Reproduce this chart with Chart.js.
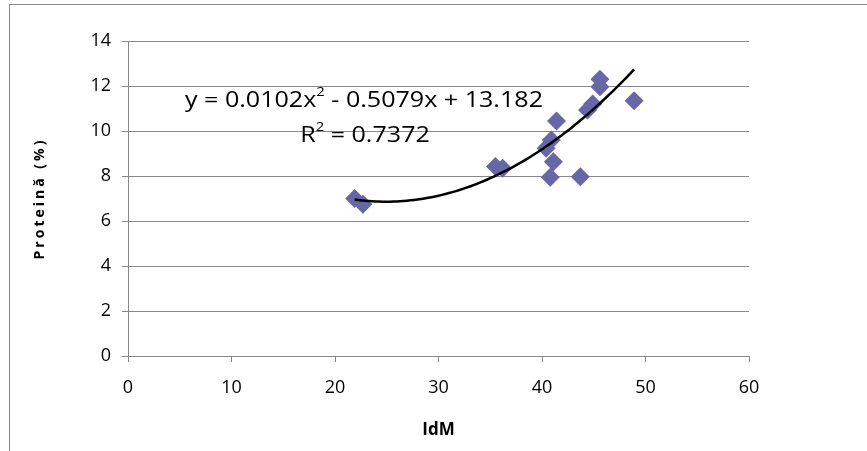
<!DOCTYPE html>
<html>
<head>
<meta charset="utf-8">
<script src="https://cdn.jsdelivr.net/npm/chart.js@4"></script>
<style>
  html, body { margin: 0; padding: 0; background: #fff; }
  #wrap { width: 867px; height: 451px; }
</style>
</head>
<body>
<div id="wrap"><canvas id="chart" width="867" height="451"></canvas></div>
<script>
// data
const idm = [21.9, 22.7, 35.5, 36.2, 40.4, 40.9, 41.4, 41.1, 40.8, 43.7, 44.4, 44.9, 45.6, 45.6, 48.9];
const protein = [7.0, 6.75, 8.42, 8.35, 9.23, 9.6, 10.44, 8.63, 7.94, 7.97, 10.93, 11.2, 12.3, 11.97, 11.35];
const xTicks = [0, 10, 20, 30, 40, 50, 60];
const yTicks = [0, 2, 4, 6, 8, 10, 12, 14];
// trendline y = a x^2 + b x + c
const trendCoef = [0.0102, -0.5079, 13.182];
const trendText = ["y = 0.0102x", "2", " - 0.5079x + 13.182"];
const r2Text = ["R", "2", " = 0.7372"];

const gridColor = "#888888";
const markerColor = "#6767a7";
const fontFamily = "'Open Sans'";

// outer frame + white background
const framePlugin = {
  id: "frame",
  beforeDraw(chart) {
    const ctx = chart.ctx;
    ctx.save();
    ctx.fillStyle = "#fff";
    ctx.fillRect(0, 0, chart.width, chart.height);
    ctx.strokeStyle = "#8a8a8a";
    ctx.lineWidth = 1;
    ctx.strokeRect(9.5, 4.5, chart.width + 20, chart.height + 20);
    ctx.restore();
  }
};

// poly trendline + its label, y axis title
const trendPlugin = {
  id: "trend",
  afterDatasetsDraw(chart) {
    const ctx = chart.ctx;
    const xs = chart.scales.x, ys = chart.scales.y;
    const x0 = Math.min(...idm), x1 = Math.max(...idm);
    const f = x => trendCoef[0] * x * x + trendCoef[1] * x + trendCoef[2];
    ctx.save();
    ctx.beginPath();
    const steps = 80;
    for (let i = 0; i <= steps; i++) {
      const x = x0 + (x1 - x0) * i / steps;
      const px = xs.getPixelForValue(x), py = ys.getPixelForValue(f(x));
      if (i === 0) ctx.moveTo(px, py); else ctx.lineTo(px, py);
    }
    ctx.strokeStyle = "#000";
    ctx.lineWidth = 2.5;
    ctx.lineJoin = "round";
    ctx.stroke();
    ctx.restore();

    drawSup(ctx, trendText, xs.getPixelForValue(22.8), ys.getPixelForValue(11.33));
    drawSup(ctx, r2Text, xs.getPixelForValue(22.9), ys.getPixelForValue(9.78));
  },
  afterDraw(chart) {
    const ctx = chart.ctx;
    const a = chart.chartArea;
    ctx.save();
    ctx.translate(40, (a.top + a.bottom) / 2);
    ctx.rotate(-Math.PI / 2);
    ctx.font = "bold 14px " + fontFamily;
    ctx.letterSpacing = "3px";
    ctx.fillStyle = "#000";
    ctx.textAlign = "center";
    ctx.textBaseline = "middle";
    ctx.fillText("Proteină (%)", 0, 0);
    ctx.restore();
  }
};

// label with a superscript part, stretched a bit wider like the original
function drawSup(ctx, parts, cx, cy) {
  const big = "22px " + fontFamily, small = "13px " + fontFamily;
  ctx.save();
  ctx.translate(cx, cy);
  ctx.scale(1.14, 1);
  ctx.fillStyle = "#000";
  ctx.textBaseline = "middle";
  ctx.font = big;
  const w0 = ctx.measureText(parts[0]).width;
  const w2 = ctx.measureText(parts[2]).width;
  ctx.font = small;
  const w1 = ctx.measureText(parts[1]).width;
  let x = -(w0 + w1 + w2) / 2;
  ctx.textAlign = "left";
  ctx.font = big;
  ctx.fillText(parts[0], x, 0);
  x += w0;
  ctx.font = small;
  ctx.fillText(parts[1], x, -9);
  x += w1;
  ctx.font = big;
  ctx.fillText(parts[2], x, 0);
  ctx.restore();
}

new Chart(document.getElementById("chart"), {
  type: "scatter",
  data: {
    datasets: [{
      label: "Proteină",
      data: idm.map((x, i) => ({ x: x, y: protein[i] })),
      pointStyle: "rectRot",
      pointRadius: 9.5,
      pointHoverRadius: 9.5,
      backgroundColor: markerColor,
      borderColor: markerColor,
      borderWidth: 0
    }]
  },
  options: {
    responsive: false,
    devicePixelRatio: 1,
    animation: false,
    layout: { padding: { top: 41, right: 118, left: 0, bottom: 0 } },
    plugins: {
      legend: { display: false },
      tooltip: { enabled: false }
    },
    scales: {
      x: {
        type: "linear",
        min: 0,
        max: 60,
        afterBuildTicks: s => { s.ticks = xTicks.map(v => ({ value: v })); },
        afterFit: s => { s.height = 95; },
        ticks: { color: "#000", font: { family: fontFamily, size: 18 }, padding: 15 },
        grid: { drawOnChartArea: false, color: gridColor, tickLength: 6 },
        border: { color: gridColor },
        title: {
          display: true,
          text: "IdM",
          color: "#000",
          font: { family: fontFamily, size: 17, weight: "bold" },
          padding: { top: 0, bottom: 11 }
        }
      },
      y: {
        min: 0,
        max: 14,
        afterBuildTicks: s => { s.ticks = yTicks.map(v => ({ value: v })); },
        afterFit: s => { s.width = 128; },
        ticks: { color: "#000", font: { family: fontFamily, size: 18 }, padding: 11 },
        grid: { color: gridColor, tickLength: 6 },
        border: { color: gridColor }
      }
    }
  },
  plugins: [framePlugin, trendPlugin]
});
</script>
</body>
</html>
